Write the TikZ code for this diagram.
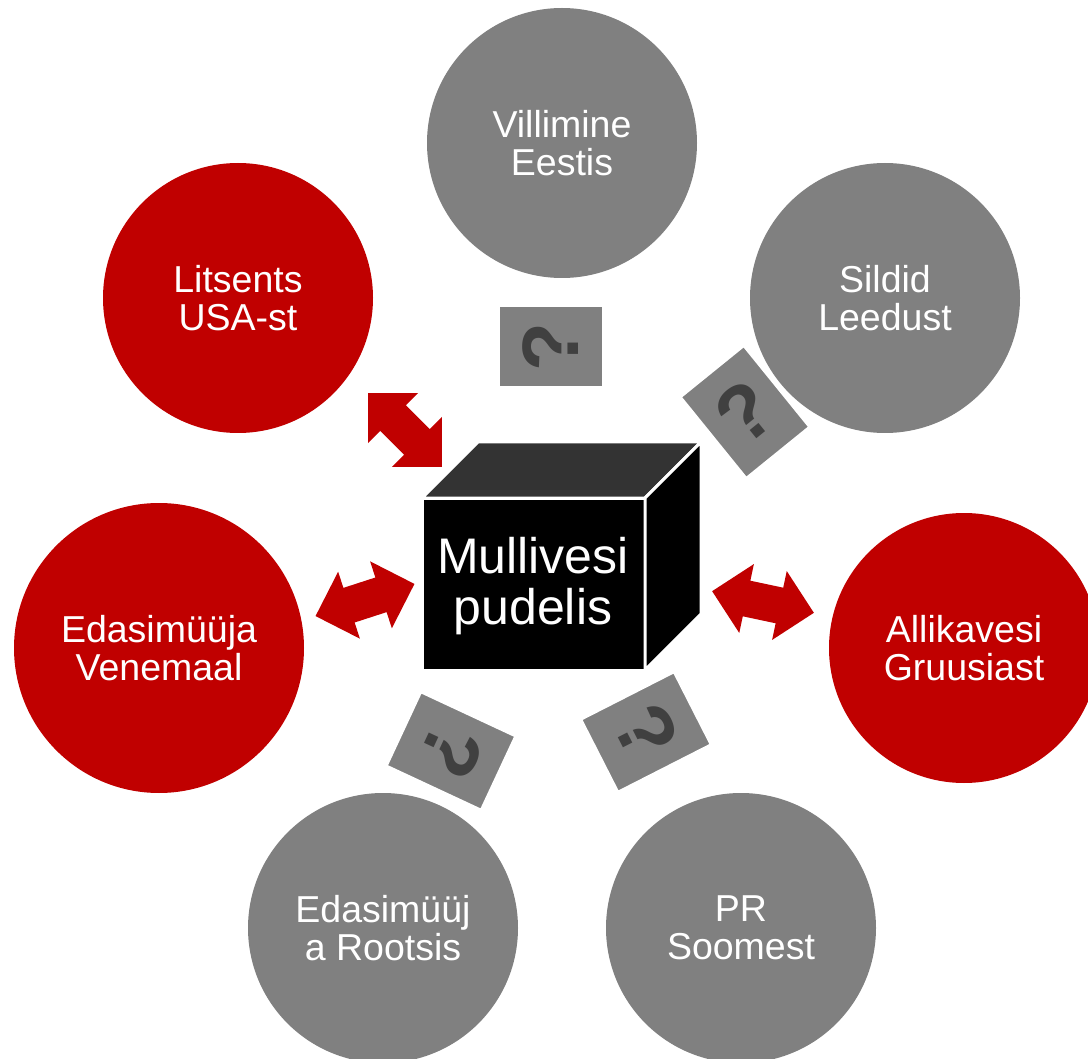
\documentclass[tikz,border=0pt]{standalone}
\usepackage{fontspec}
\setmainfont{Liberation Sans}
\usepackage{tikz}
\usetikzlibrary{shapes, shapes.arrows, arrows.meta}
\definecolor{ballred}{HTML}{C00000}
\definecolor{ballgray}{HTML}{808080}
\definecolor{cubetop}{HTML}{333333}
\definecolor{qmark}{HTML}{404040}
\tikzset{
  ball/.style={circle, minimum size=270, inner sep=0, text=white, align=center,
    font=\fontsize{37.5}{38.5}\selectfont},
  redball/.style={ball, fill=ballred},
  grayball/.style={ball, fill=ballgray},
  qbox/.style={rectangle, fill=ballgray, draw=white, line width=2, minimum width=104,
    minimum height=81, inner sep=0, text=qmark, font=\bfseries\fontsize{80}{80}\selectfont},
  twoway/.style={double arrow, fill=ballred, minimum height=104, inner xsep=0, inner ysep=18,
    double arrow head extend=17, double arrow tip angle=90},
  cubeface/.style={draw=white, line width=3, line join=miter}
}

\begin{document}
\begin{tikzpicture} [x=1pt, y=-1pt]
                    \clip (0,0) rectangle (1088,1059);
                    \node[grayball] (eesti) at (562, 143) {Villimine\\Eestis};
                    \node[grayball] (leedu) at (885, 298) {Sildid\\Leedust};
                    \node[redball] (gruusia) at (964, 648) {Allikavesi\\Gruusiast};
                    \node[grayball] (soome) at (741, 928) {PR\\Soomest};
                    \node[grayball] (rootsi) at (383, 928) {Edasimüüj\\a Rootsis};
                    \node[redball, minimum size=290] (venemaa) at (159, 648) {Edasimüüja\\Venemaal};
                    \node[redball] (usa) at (238, 298) {Litsents\\USA-st};
                    % the box
                    \coordinate (f1) at (422, 498);
                    \coordinate (f2) at (645, 498);
                    \coordinate (f3) at (645, 670);
                    \coordinate (f4) at (422, 670);
                    \coordinate (b1) at (478, 442);
                    \coordinate (b2) at (701, 442);
                    \coordinate (b3) at (701, 614);
                    \fill[black, cubeface] (f1) -- (f2) -- (f3) -- (f4) -- cycle;
                    \fill[cubetop, cubeface] (f1) -- (b1) -- (b2) -- (f2) -- cycle;
                    \fill[black, cubeface] (f2) -- (b2) -- (b3) -- (f3) -- cycle;
                    \node[text=white, align=center, font=\fontsize{50}{51}\selectfont] (bottle) at (533, 586) {Mullivesi\\pudelis};
                    \node[twoway, rotate=-45] (arrusa) at (405, 430) {};
                    \node[twoway, rotate=18] (arrvene) at (365, 600) {};
                    \node[twoway, rotate=-12] (arrgruu) at (763, 602) {};
                    \node[qbox] (qeesti) at (551, 347) {\rotatebox{90}{?}};
                    \node[qbox, rotate=-51] (qleedu) at (745, 412) {\rotatebox{90}{?}};
                    \node[qbox, rotate=155] (qrootsi) at (451, 751) {\rotatebox{90}{?}};
                    \node[qbox, rotate=207] (qsoome) at (646, 732) {\rotatebox{90}{?}};
                \end{tikzpicture}
\end{document}
